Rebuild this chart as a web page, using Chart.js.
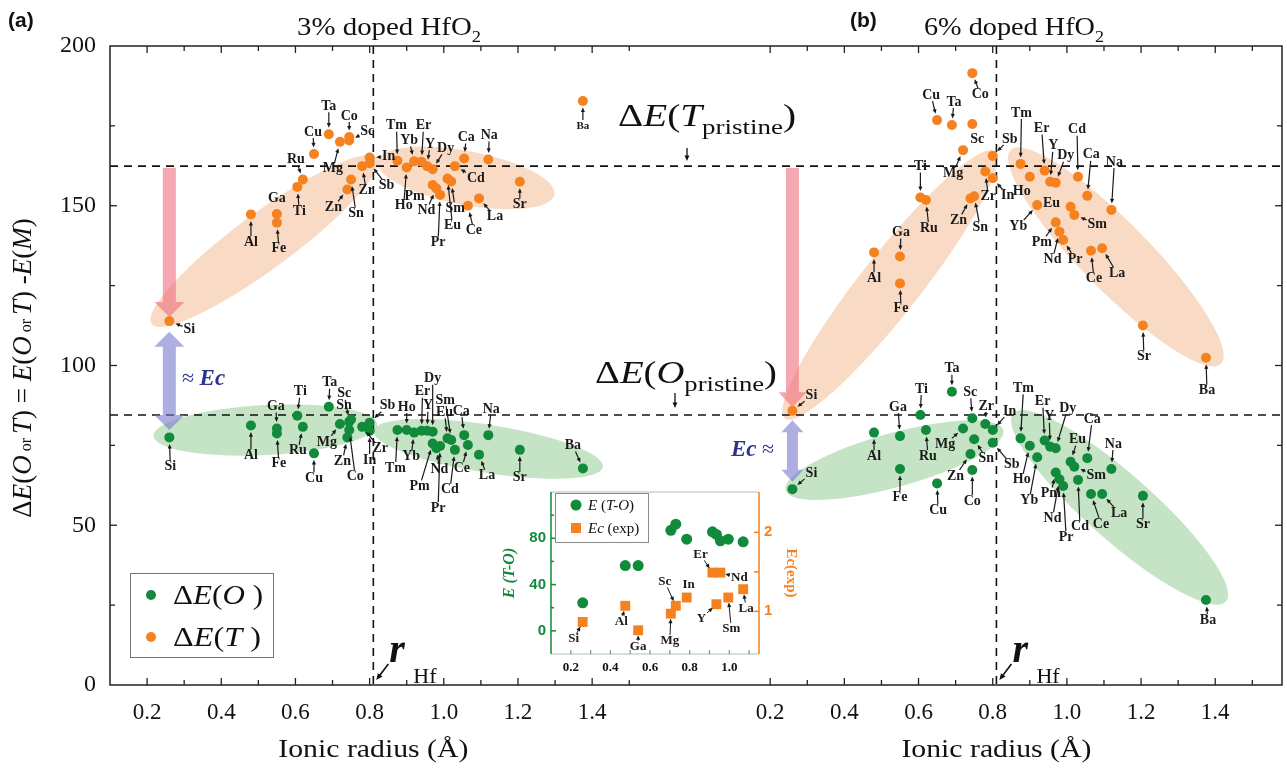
<!DOCTYPE html>
<html>
<head>
<meta charset="utf-8">
<title>Doped HfO2 phase energies</title>
<script src="https://cdn.jsdelivr.net/npm/chart.js@4.4.1/dist/chart.umd.min.js"></script>
<style>
  html, body { margin: 0; padding: 0; background: #fff; }
  #wrap { position: relative; width: 1287px; height: 775px; overflow: hidden; }
  #mainChart { position: absolute; left: 0; top: 0; }
  #insetChart { position: absolute; left: 500px; top: 478px; }
</style>
</head>
<body>
<div id="wrap">
  <canvas id="mainChart" width="1287" height="775"></canvas>
  <canvas id="insetChart" width="300" height="200"></canvas>
</div>
<script>
// ---------- data ----------
const elements = ["Si","Al","Ga","Fe","Ti","Ru","Cu","Ta","Co","Mg","Sc","Zn","Sn","Zr","In","Sb",
  "Tm","Ho","Yb","Er","Y","Dy","Pm","Nd","Pr","Eu","Sm","Cd","Ca","Ce","La","Na","Sr","Ba"];
const ionicRadius = [0.26,0.48,0.55,0.55,0.605,0.62,0.65,0.69,0.745,0.72,0.745,0.74,0.75,0.78,0.80,0.80,
  0.875,0.90,0.92,0.94,0.955,0.97,0.97,0.98,0.99,1.01,1.02,1.03,1.055,1.065,1.095,1.12,1.205,1.375];

// 3% doped
const dE_T_3 = [113.9,147.3,147.4,144.7,155.9,158.2,166.2,172.4,171.5,170.0,170.4,155.1,158.2,162.4,165.1,163.3,
  164.1,162.0,163.9,163.8,162.4,161.4,156.5,155.4,153.4,158.5,157.6,162.4,164.8,150.0,152.3,164.5,157.5,182.8];
const dE_O_3 = [77.5,81.2,80.3,78.7,84.3,80.8,72.5,87.1,79.8,81.7,82.4,77.5,83.1,80.8,79.5,82.1,
  79.8,79.8,79.0,79.6,79.6,79.3,75.6,74.1,74.8,77.2,76.7,73.6,78.2,75.1,72.1,78.2,73.6,67.8];
// 6% doped
const dE_T_6 = [85.8,135.4,134.1,125.7,152.6,151.8,176.8,175.3,191.5,167.4,175.6,152.3,153.0,160.7,158.6,165.6,
  163.1,159.1,150.2,161.0,157.5,157.2,144.8,141.9,139.3,149.7,147.1,159.1,153.1,135.9,136.7,148.7,112.5,102.4];
const dE_O_6 = [61.3,79.0,77.9,67.6,84.5,79.8,63.1,91.8,67.3,80.3,83.5,72.3,76.9,81.7,79.8,75.8,
  77.2,74.9,71.3,76.5,74.6,74.1,66.5,64.4,62.3,69.9,68.3,64.2,71.0,59.8,59.8,67.6,59.2,26.6];

const pristineT = 162.4;
const pristineO = 84.5;
const rHf = 0.81;
const radiusTicks = [0.2, 0.4, 0.6, 0.8, 1.0, 1.2, 1.4];
const energyTicks = [0, 50, 100, 150, 200];

// inset: 6% doped, E(T-O) vs experimental coercive field
const insetElements = ["Si","Al","Ga","Mg","Sc","In","Er","Y","Nd","Sm","La"];
const insetRadius = [0.26,0.475,0.54,0.705,0.73,0.785,0.915,0.935,0.955,0.995,1.07];
const insetE_TO = [24.2,56.4,56.4,86.9,92.2,79.2,85.6,83.3,77.8,79.2,76.9];
const insetEc = [0.865,1.07,0.76,0.97,1.07,1.175,1.49,1.09,1.49,1.175,1.28];
const insetRadiusTicks = [0.2, 0.4, 0.6, 0.8, 1.0];
const insetETicks = [0, 40, 80];
const insetEcTicks = [1, 2];

// ---------- label placement (pixel offsets from the point) ----------
const labT3 = {Si:[20,8],Al:[0,28],Ga:[0,-16],Fe:[2,26],Ti:[2,24],Ru:[-7,-20],Cu:[-1,-22],Ta:[0,-28],
  Co:[0,-21],Mg:[-7,27],Sc:[18,-9],Zn:[-14,18],Sn:[5,34],Zr:[4,24],In:[19,-1],Sb:[17,22],Tm:[-1,-35],
  Ho:[-3,38],Yb:[-5,-21],Er:[2,-36],Y:[3,-22],Dy:[13,-21],Pm:[-18,11],Nd:[-10,22],Pr:[-2,48],Eu:[5,47],
  Sm:[4,27],Cd:[21,12],Ca:[2,-21],Ce:[6,25],La:[16,18],Na:[1,-24],Sr:[0,23],Ba:[0,25]};
const labO3 = {Si:[1,29],Al:[0,30],Ga:[-1,-22],Fe:[2,30],Ti:[3,-24],Ru:[-5,24],Cu:[0,25],Ta:[1,-24],
  Co:[6,46],Mg:[-13,18],Sc:[-5,-28],Zn:[-5,24],Sn:[-7,-14],Zr:[18,22],In:[0,29],Sb:[18,-17],Tm:[-2,38],
  Ho:[0,-23],Yb:[-3,24],Er:[1,-39],Y:[1,-25],Dy:[0,-53],Pm:[-13,43],Nd:[3,21],Pr:[-2,62],Eu:[-3,-26],
  Sm:[-6,-40],Cd:[-5,40],Ca:[-3,-24],Ce:[-6,23],La:[8,21],Na:[3,-26],Sr:[0,28],Ba:[-10,-23]};
const labT6 = {Si:[19,-15],Al:[0,26],Ga:[1,-24],Fe:[1,25],Ti:[0,-31],Ru:[3,28],Cu:[-6,-25],Ta:[2,-23],
  Co:[8,21],Mg:[-10,23],Sc:[5,15],Zn:[-12,22],Sn:[6,31],Zr:[3,25],In:[15,17],Sb:[17,-17],Tm:[1,-51],
  Ho:[-8,15],Yb:[-19,21],Er:[-3,-42],Y:[3,-36],Dy:[10,-27],Pm:[-14,20],Nd:[-7,28],Pr:[12,19],Eu:[-19,-3],
  Sm:[23,9],Cd:[-1,-47],Ca:[4,-41],Ce:[3,28],La:[15,25],Na:[3,-48],Sr:[1,31],Ba:[1,33]};
const labO6 = {Si:[19,-16],Al:[0,24],Ga:[-2,-29],Fe:[0,28],Ti:[1,-26],Ru:[2,26],Cu:[1,27],Ta:[0,-23],
  Co:[0,31],Mg:[-18,16],Sc:[-2,-26],Zn:[-15,22],Sn:[12,19],Zr:[1,-18],In:[17,-19],Sb:[19,22],Tm:[3,-50],
  Ho:[-8,34],Yb:[-8,43],Er:[-2,-39],Y:[-1,-30],Dy:[12,-40],Pm:[-5,21],Nd:[-7,39],Pr:[3,51],Eu:[7,-22],
  Sm:[22,9],Cd:[2,47],Ca:[5,-39],Ce:[10,30],La:[17,19],Na:[2,-25],Sr:[0,29],Ba:[2,20]};
const labInset = {Si:[-9,17],Al:[-4,16],Ga:[0,16],Mg:[-1,27],Sc:[-11,-24],In:[2,-13],Er:[-12,-18],
  Nd:[19,5],Y:[-15,14],Sm:[3,31],La:[3,19]};

// ---------- style ----------
const ORANGE = '#f5821f';
const GREEN = '#118a3c';
const PEACH = 'rgba(244,190,150,0.55)';
const MINT = 'rgba(140,200,140,0.5)';
const serif = '"Liberation Serif", "Times New Roman", serif';
const sans = '"Liberation Sans", Arial, sans-serif';

const ellipses = [
  {axis: 'xa', x: 0.516, y: 139.0, rx: 140, ry: 28, rot: -36.4, fill: PEACH},
  {axis: 'xa', x: 1.06,  y: 158.7, rx: 90,  ry: 27, rot: 10.7,  fill: PEACH},
  {axis: 'xa', x: 0.519, y: 79.8,  rx: 112, ry: 25, rot: -3,    fill: MINT},
  {axis: 'xa', x: 1.12,  y: 73.9,  rx: 116, ry: 24, rot: 9,     fill: MINT},
  {axis: 'xb', x: 0.523, y: 125.2, rx: 170, ry: 30, rot: -51.8, fill: PEACH},
  {axis: 'xb', x: 1.132, y: 134.0, rx: 150, ry: 34, rot: 45.5,  fill: PEACH},
  {axis: 'xb', x: 0.535, y: 70.4,  rx: 113, ry: 27, rot: -15.5, fill: MINT},
  {axis: 'xb', x: 1.142, y: 55.6,  rx: 142, ry: 33, rot: 41.5,  fill: MINT}
];
const bigArrows = [
  {axis: 'xa', x: 0.26, from: 161.8, to: 115.2, w: 13, hw: 30, hl: 15, double: false, fill: 'rgba(238,110,125,0.6)'},
  {axis: 'xa', x: 0.26, from: 110.6, to: 79.8,  w: 13, hw: 30, hl: 15, double: true,  fill: 'rgba(120,120,205,0.6)'},
  {axis: 'xb', x: 0.26, from: 161.8, to: 86.9,  w: 13, hw: 28, hl: 15, double: false, fill: 'rgba(238,110,125,0.6)'},
  {axis: 'xb', x: 0.26, from: 82.9,  to: 63.6,  w: 11, hw: 22, hl: 12, double: true,  fill: 'rgba(120,120,205,0.6)'}
];

// ---------- helpers ----------
function pts(xs, ys) { return xs.map((x, i) => ({x, y: ys[i]})); }

function arrowLine(ctx, x1, y1, x2, y2, head) {
  const a = Math.atan2(y2 - y1, x2 - x1);
  ctx.beginPath();
  ctx.moveTo(x1, y1);
  ctx.lineTo(x2 - Math.cos(a) * head * 0.7, y2 - Math.sin(a) * head * 0.7);
  ctx.stroke();
  ctx.beginPath();
  ctx.moveTo(x2, y2);
  ctx.lineTo(x2 - head * Math.cos(a - 0.42), y2 - head * Math.sin(a - 0.42));
  ctx.lineTo(x2 - head * Math.cos(a + 0.42), y2 - head * Math.sin(a + 0.42));
  ctx.closePath();
  ctx.fill();
}

// text label sitting at (px+dx, py+dy) with an arrow pointing back at the point
function tag(ctx, px, py, text, dx, dy, size, gap) {
  const lx = px + dx, ly = py + dy;
  ctx.fillText(text, lx, ly);
  const len = Math.hypot(dx, dy);
  if (len < 1) return;
  const ux = -dx / len, uy = -dy / len;
  const hw = ctx.measureText(text).width / 2 + 1, hh = size * 0.36 + 1;
  const t = Math.min(Math.abs(ux) > 1e-6 ? hw / Math.abs(ux) : 1e9, Math.abs(uy) > 1e-6 ? hh / Math.abs(uy) : 1e9);
  const sx = lx + ux * t, sy = ly + uy * t;
  const ex = px - ux * gap, ey = py - uy * gap;
  if (Math.hypot(ex - sx, ey - sy) < 4) return;
  arrowLine(ctx, sx, sy, ex, ey, 5);
}

// mixed-style text run; optional width stretches it horizontally
function rich(ctx, x, y, segs, align, width) {
  let w = 0;
  segs.forEach(s => { ctx.font = s[1]; w += ctx.measureText(s[0]).width; });
  const k = width ? width / w : 1;
  ctx.save();
  ctx.translate(align === 'center' ? x - w * k / 2 : x, y);
  ctx.scale(k, 1);
  let cx = 0;
  segs.forEach(s => {
    ctx.font = s[1];
    ctx.fillText(s[0], cx, s[2] || 0);
    cx += ctx.measureText(s[0]).width;
  });
  ctx.restore();
}

function fatArrow(ctx, x, y1, y2, w, hw, hl, dbl) {
  const dir = Math.sign(y2 - y1);
  const s1 = dbl ? y1 + dir * hl : y1;
  const s2 = y2 - dir * hl;
  ctx.beginPath();
  if (dbl) { ctx.moveTo(x, y1); ctx.lineTo(x + hw / 2, s1); ctx.lineTo(x + w / 2, s1); }
  else ctx.moveTo(x + w / 2, s1);
  ctx.lineTo(x + w / 2, s2); ctx.lineTo(x + hw / 2, s2); ctx.lineTo(x, y2);
  ctx.lineTo(x - hw / 2, s2); ctx.lineTo(x - w / 2, s2); ctx.lineTo(x - w / 2, s1);
  if (dbl) ctx.lineTo(x - hw / 2, s1);
  ctx.closePath();
  ctx.fill();
}

function seg(ctx, x1, y1, x2, y2) { ctx.beginPath(); ctx.moveTo(x1, y1); ctx.lineTo(x2, y2); ctx.stroke(); }

// ---------- main chart decorations ----------
const decor = {
  id: 'decor',
  beforeDatasetsDraw(chart) {
    const {ctx, chartArea: a} = chart;
    const xs = {xa: chart.scales.xa, xb: chart.scales.xb}, ys = chart.scales.y;
    ctx.save();
    ellipses.forEach(e => {
      ctx.fillStyle = e.fill;
      ctx.beginPath();
      ctx.ellipse(xs[e.axis].getPixelForValue(e.x), ys.getPixelForValue(e.y), e.rx, e.ry, e.rot * Math.PI / 180, 0, Math.PI * 2);
      ctx.fill();
    });
    ctx.strokeStyle = '#111';
    ctx.lineWidth = 1.6;
    ctx.setLineDash([8, 6]);
    [pristineT, pristineO].forEach(v => { const y = ys.getPixelForValue(v); seg(ctx, a.left, y, a.right, y); });
    ['xa', 'xb'].forEach(id => { const x = xs[id].getPixelForValue(rHf); seg(ctx, x, a.top, x, a.bottom); });
    ctx.setLineDash([]);
    bigArrows.forEach(b => {
      ctx.fillStyle = b.fill;
      fatArrow(ctx, xs[b.axis].getPixelForValue(b.x), ys.getPixelForValue(b.from), ys.getPixelForValue(b.to), b.w, b.hw, b.hl, b.double);
    });
    ctx.restore();
  },
  afterDatasetsDraw(chart) {
    const {ctx} = chart;
    ctx.save();
    ctx.fillStyle = '#1a1a1a';
    ctx.strokeStyle = '#1a1a1a';
    ctx.lineWidth = 1.2;
    ctx.textAlign = 'center';
    ctx.textBaseline = 'middle';
    chart.data.datasets.forEach((ds, di) => {
      chart.getDatasetMeta(di).data.forEach((pt, i) => {
        const name = elements[i], off = ds.labelOffsets[name];
        ctx.font = (name === 'Ba' && di === 0 ? 'bold 11px ' : 'bold 14px ') + serif;
        tag(ctx, pt.x, pt.y, name, off[0], off[1], 14, 6.5);
      });
    });
    ctx.restore();
  },
  afterDraw(chart) {
    const {ctx, chartArea: a} = chart;
    const xa = chart.scales.xa, xb = chart.scales.xb, ys = chart.scales.y;
    ctx.save();
    // frame
    ctx.strokeStyle = '#222';
    ctx.lineWidth = 1.5;
    ctx.strokeRect(a.left, a.top, a.right - a.left, a.bottom - a.top);
    // inward tick marks
    ctx.lineWidth = 1.3;
    [xa, xb].forEach(s => {
      for (let k = 2; k <= 15; k++) {
        const x = s.getPixelForValue(k / 10), len = k % 2 === 0 ? 7 : 5;
        seg(ctx, x, a.bottom, x, a.bottom - len);
        seg(ctx, x, a.top, x, a.top + len);
      }
    });
    for (let v = 25; v < 200; v += 25) {
      const y = ys.getPixelForValue(v), len = v % 50 === 0 ? 7 : 5;
      seg(ctx, a.left, y, a.left + len, y);
      seg(ctx, a.right, y, a.right - len, y);
    }
    ctx.fillStyle = '#111';
    ctx.textAlign = 'left';
    ctx.textBaseline = 'alphabetic';
    const it = 'italic 27px ' + serif, nt = '27px ' + serif, sm = '16px ' + serif;
    // y title
    ctx.save();
    ctx.translate(31, 368);
    ctx.rotate(-Math.PI / 2);
    rich(ctx, 0, 0, [['Δ', nt], ['E', it], ['(', nt], ['O', it], [' or ', sm], ['T', it], [') = ', nt],
      ['E', it], ['(', nt], ['O', it], [' or ', sm], ['T', it], [') -', nt], ['E', it], ['(', nt], ['M', it], [')', nt]], 'center');
    ctx.restore();
    // x titles
    [xa, xb].forEach(s => {
      rich(ctx, s.getPixelForValue(rHf), 757, [['Ionic radius (Å)', '25px ' + serif]], 'center', 190);
    });
    // panel tags and titles
    ctx.font = 'bold 21px ' + sans;
    ctx.fillText('(a)', 8, 27);
    ctx.fillText('(b)', 850, 27);
    rich(ctx, 297, 35, [['3% doped HfO', '25px ' + serif], ['2', '16px ' + serif, 7]], 'left', 184);
    rich(ctx, 924, 35, [['6% doped HfO', '25px ' + serif], ['2', '16px ' + serif, 7]], 'left', 180);
    // pristine references
    const bt = '32px ' + serif, bi = 'italic 32px ' + serif, sub = '22px ' + serif;
    rich(ctx, 618, 126, [['Δ', bt], ['E', bi], ['(', bt], ['T', bi], ['pristine', sub, 8], [')', bt]], 'left', 178);
    rich(ctx, 595, 383, [['Δ', bt], ['E', bi], ['(', bt], ['O', bi], ['pristine', sub, 8], [')', bt]], 'left', 182);
    ctx.strokeStyle = '#111';
    ctx.lineWidth = 1.3;
    arrowLine(ctx, 687, 148, 687, 161, 6);
    arrowLine(ctx, 675, 393, 675, 408, 6);
    // r_Hf markers
    [xa, xb].forEach(s => {
      const x = s.getPixelForValue(rHf);
      rich(ctx, x + 16, 662, [['r', 'bold italic 40px ' + serif]]);
      rich(ctx, x + 40, 683, [['Hf', '22px ' + serif]]);
      ctx.lineWidth = 1.6;
      arrowLine(ctx, x + 15, 664, x + 3, 680, 7);
    });
    // Ec annotations
    ctx.fillStyle = '#2b3590';
    rich(ctx, 182, 385, [['≈ ', '22px ' + serif], ['Ec', 'bold italic 23px ' + serif]]);
    rich(ctx, 731, 456, [['Ec', 'bold italic 23px ' + serif], [' ≈', '22px ' + serif]]);
    // legend
    ctx.fillStyle = '#fff';
    ctx.fillRect(130, 573, 143, 84);
    ctx.strokeStyle = '#777';
    ctx.lineWidth = 1;
    ctx.strokeRect(130.5, 573.5, 143, 84);
    ctx.fillStyle = GREEN;
    ctx.beginPath(); ctx.arc(151, 595, 5, 0, Math.PI * 2); ctx.fill();
    ctx.fillStyle = ORANGE;
    ctx.beginPath(); ctx.arc(151, 637, 5, 0, Math.PI * 2); ctx.fill();
    ctx.fillStyle = '#111';
    const lt = '27px ' + serif, li = 'italic 27px ' + serif;
    rich(ctx, 173, 604, [['Δ', lt], ['E', li], ['(', lt], ['O', li], [' )', lt]], 'left', 90);
    rich(ctx, 173, 646, [['Δ', lt], ['E', li], ['(', lt], ['T', li], [' )', lt]], 'left', 88);
    ctx.restore();
  }
};

const pointStyle = {pointRadius: 5, pointHoverRadius: 5, borderWidth: 0};
const tickFont = {family: serif, size: 23};

function radiusAxis(max, weight) {
  return {
    type: 'linear', position: 'bottom', stack: 'radius', stackWeight: weight, weight: 0,
    min: 0.1, max: max,
    afterBuildTicks: s => { s.ticks = radiusTicks.map(v => ({value: v})); },
    afterFit: s => { s.height = 90; },
    grid: {display: false, drawTicks: false, drawOnChartArea: false},
    border: {display: false},
    ticks: {font: tickFont, color: '#111', padding: 14, maxRotation: 0, autoSkip: false,
      callback: v => Number(v).toFixed(1)}
  };
}

new Chart(document.getElementById('mainChart'), {
  type: 'scatter',
  data: {
    datasets: [
      {label: 'ΔE(T) 3%', data: pts(ionicRadius, dE_T_3), xAxisID: 'xa', yAxisID: 'y',
        backgroundColor: ORANGE, labelOffsets: labT3, ...pointStyle},
      {label: 'ΔE(O) 3%', data: pts(ionicRadius, dE_O_3), xAxisID: 'xa', yAxisID: 'y',
        backgroundColor: GREEN, labelOffsets: labO3, ...pointStyle},
      {label: 'ΔE(T) 6%', data: pts(ionicRadius, dE_T_6), xAxisID: 'xb', yAxisID: 'y',
        backgroundColor: ORANGE, labelOffsets: labT6, ...pointStyle},
      {label: 'ΔE(O) 6%', data: pts(ionicRadius, dE_O_6), xAxisID: 'xb', yAxisID: 'y',
        backgroundColor: GREEN, labelOffsets: labO6, ...pointStyle}
    ]
  },
  options: {
    responsive: false,
    animation: false,
    events: [],
    layout: {padding: {left: 0, right: 4, top: 46, bottom: 0}},
    plugins: {legend: {display: false}, tooltip: {enabled: false}},
    scales: {
      xa: radiusAxis(1.78, 1.68),
      xb: radiusAxis(1.58, 1.48),
      y: {
        type: 'linear', position: 'left', min: 0, max: 200,
        afterBuildTicks: s => { s.ticks = energyTicks.map(v => ({value: v})); },
        afterFit: s => { s.width = 110; },
        grid: {display: false, drawTicks: false, drawOnChartArea: false},
        border: {display: false},
        ticks: {font: {family: serif, size: 24}, color: '#111', padding: 14}
      }
    }
  },
  plugins: [decor]
});

// ---------- inset ----------
const insetDecor = {
  id: 'insetDecor',
  afterDraw(chart) {
    const {ctx, chartArea: a} = chart;
    const x = chart.scales.x, yl = chart.scales.yl, yr = chart.scales.yr;
    ctx.save();
    ctx.lineWidth = 1.2;
    ctx.strokeStyle = '#a8c8a8';
    seg(ctx, a.left, a.top, a.right, a.top);
    seg(ctx, a.left, a.bottom, a.right, a.bottom);
    ctx.strokeStyle = '#8a8a8a';
    for (let k = 2; k <= 11; k++) { const px = x.getPixelForValue(k / 10); seg(ctx, px, a.bottom, px, a.bottom - 4); }
    ctx.strokeStyle = GREEN;
    ctx.lineWidth = 1.5;
    seg(ctx, a.left, a.top, a.left, a.bottom);
    for (let v = 0; v <= 100; v += 20) { const py = yl.getPixelForValue(v); seg(ctx, a.left, py, a.left + (v % 40 === 0 ? 5 : 3), py); }
    ctx.strokeStyle = ORANGE;
    seg(ctx, a.right, a.top, a.right, a.bottom);
    [1, 1.5, 2].forEach(v => { const py = yr.getPixelForValue(v); seg(ctx, a.right, py, a.right - 5, py); });
    // legend
    ctx.fillStyle = 'rgba(255,255,255,0.9)';
    ctx.fillRect(55, 15, 93, 49);
    ctx.strokeStyle = '#8a8a8a';
    ctx.lineWidth = 1;
    ctx.strokeRect(55.5, 15.5, 93, 49);
    ctx.fillStyle = GREEN;
    ctx.beginPath(); ctx.arc(76, 27, 5.5, 0, Math.PI * 2); ctx.fill();
    ctx.fillStyle = ORANGE;
    ctx.fillRect(71, 45, 10, 10);
    ctx.fillStyle = '#111';
    ctx.textAlign = 'left';
    ctx.textBaseline = 'alphabetic';
    const f = '15px ' + serif, fi = 'italic 15px ' + serif;
    rich(ctx, 88, 32, [['E', fi], [' (', f], ['T-O', fi], [')', f]]);
    rich(ctx, 88, 55, [['Ec', fi], [' (exp)', f]]);
    // element tags on the squares
    ctx.textAlign = 'center';
    ctx.textBaseline = 'middle';
    ctx.font = 'bold 13px ' + serif;
    ctx.strokeStyle = '#1a1a1a';
    ctx.fillStyle = '#1a1a1a';
    ctx.lineWidth = 1;
    chart.getDatasetMeta(1).data.forEach((pt, i) => {
      const name = insetElements[i], off = labInset[name];
      tag(ctx, pt.x, pt.y, name, off[0], off[1], 13, 5);
    });
    ctx.restore();
  }
};

new Chart(document.getElementById('insetChart'), {
  type: 'scatter',
  data: {
    datasets: [
      {label: 'E (T-O)', data: pts(insetRadius, insetE_TO), yAxisID: 'yl',
        backgroundColor: GREEN, pointRadius: 5.5, pointHoverRadius: 5.5, borderWidth: 0},
      {label: 'Ec (exp)', data: pts(insetRadius, insetEc), yAxisID: 'yr', pointStyle: 'rect',
        backgroundColor: ORANGE, pointRadius: 7, pointHoverRadius: 7, borderWidth: 0}
    ]
  },
  options: {
    responsive: false,
    animation: false,
    events: [],
    layout: {padding: {top: 9, left: 0, right: 0, bottom: 0}},
    plugins: {legend: {display: false}, tooltip: {enabled: false}},
    scales: {
      x: {
        type: 'linear', min: 0.1, max: 1.15,
        afterBuildTicks: s => { s.ticks = insetRadiusTicks.map(v => ({value: v})); },
        afterFit: s => { s.height = 24; },
        grid: {display: false, drawTicks: false}, border: {display: false},
        ticks: {font: {family: serif, size: 13, weight: 'bold'}, color: '#111', padding: 6, maxRotation: 0, autoSkip: false,
          callback: v => Number(v).toFixed(1)}
      },
      yl: {
        type: 'linear', position: 'left', min: -20, max: 120,
        afterBuildTicks: s => { s.ticks = insetETicks.map(v => ({value: v})); },
        afterFit: s => { s.width = 51; },
        grid: {display: false, drawTicks: false}, border: {display: false},
        ticks: {font: {family: sans, size: 15, weight: 'bold'}, color: GREEN, padding: 5},
        title: {display: true, text: 'E (T-O)', color: GREEN, padding: 0,
          font: {family: serif, size: 16, style: 'italic', weight: 'bold'}}
      },
      yr: {
        type: 'linear', position: 'right', min: 0.46, max: 2.51,
        afterBuildTicks: s => { s.ticks = insetEcTicks.map(v => ({value: v})); },
        afterFit: s => { s.width = 41; },
        grid: {display: false, drawTicks: false}, border: {display: false},
        ticks: {font: {family: sans, size: 15, weight: 'bold'}, color: ORANGE, padding: 5},
        title: {display: true, text: 'Ec(exp)', color: ORANGE, padding: 0,
          font: {family: serif, size: 15, weight: 'bold'}}
      }
    }
  },
  plugins: [insetDecor]
});
</script>
</body>
</html>
